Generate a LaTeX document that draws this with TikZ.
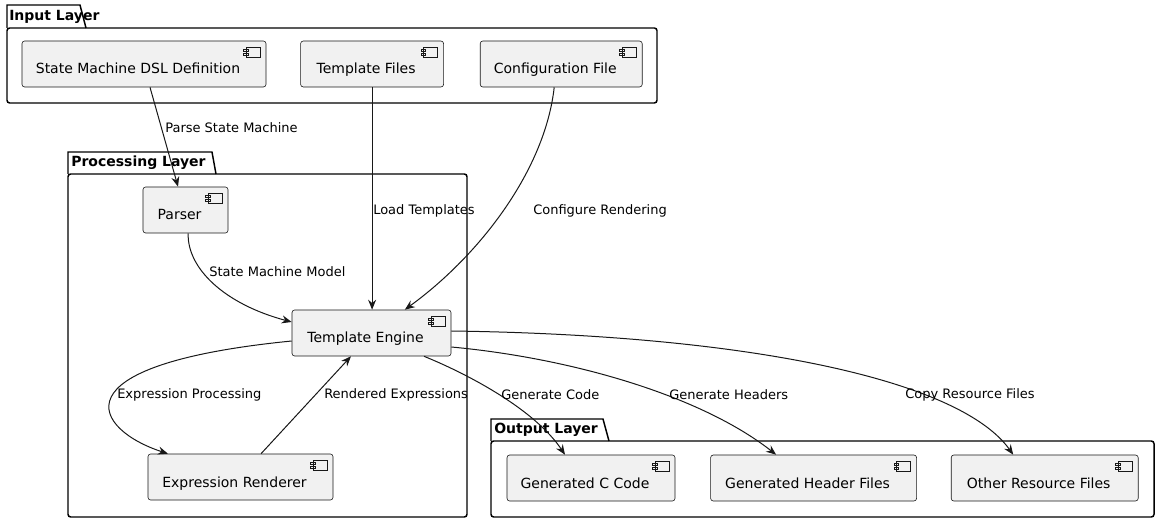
\documentclass[tikz,border=0pt]{standalone}
\usepackage{fontspec}
\setmainfont{DejaVu Sans}
\usetikzlibrary{arrows.meta, positioning}
\definecolor{compFill}{HTML}{F1F1F1}
\definecolor{lineDark}{HTML}{181818}

\begin{document}
\begin{tikzpicture}[
    x=0.75pt, y=-0.75pt,
    comp/.style={rectangle, draw=lineDark, fill=compFill, line width=0.45pt, rounded corners=2pt,
        minimum height=34.5pt, font=\fontsize{10.5}{12}\selectfont, text height=15pt, text depth=0pt,
        execute at end node={\hspace{9pt}},
        path picture={
            \draw[lineDark, line width=0.45pt, fill=compFill, sharp corners]
                ([xshift=-15pt,yshift=-4.5pt]path picture bounding box.north east) rectangle ++(10.5pt,-7.5pt)
                ([xshift=-17pt,yshift=-6.2pt]path picture bounding box.north east) rectangle ++(3.5pt,-1.5pt)
                ([xshift=-17pt,yshift=-9.2pt]path picture bounding box.north east) rectangle ++(3.5pt,-1.5pt);
        }},
    pkg/.style={draw=black, line width=1.1pt},
    pkgtitle/.style={anchor=west, inner sep=0pt, font=\bfseries\fontsize{10.5}{12}\selectfont},
    arrow/.style={-{Stealth[length=7.5pt, width=6pt, inset=2.5pt]}, draw=lineDark, line width=0.75pt},
    lbl/.style={anchor=west, inner sep=0pt, font=\fontsize{9.75}{11}\selectfont}
]
\useasboundingbox (0,0) rectangle (1159,523);

% Packages
\draw[pkg, rounded corners=2pt] (7,28) rectangle (657,103);
\draw[pkg] (7,28) -- (7,5) -- (80,5) -- (86,28);
\node[pkgtitle] (inTitle) at (9,16.5) {Input Layer};

\draw[pkg, rounded corners=2pt] (68,174) rectangle (467,517);
\draw[pkg] (68,174) -- (68,152) -- (212,152) -- (216,174);
\node[pkgtitle] (procTitle) at (71,163) {Processing Layer};

\draw[pkg, rounded corners=2pt] (491,441) rectangle (1154,517);
\draw[pkg] (491,441) -- (491,419) -- (603,419) -- (609,441);
\node[pkgtitle] (outTitle) at (494,430) {Output Layer};

% Input layer
\node[comp, minimum width=183pt] (dsl) at (144,64) {State Machine DSL Definition};
\node[comp, minimum width=107.25pt, right=25.5pt of dsl] (tpl) {Template Files};
\node[comp, minimum width=121.5pt, right=27pt of tpl] (cfg) {Configuration File};

% Processing layer
\node[comp, minimum width=63.75pt] (parser) at (185.5,210) {Parser};
\node[comp, minimum width=119.25pt] (engine) at (371.5,333) {Template Engine};
\node[comp, minimum width=138.75pt] (exprr) at (240.5,477) {Expression Renderer};

% Output layer
\node[comp, minimum width=126pt] (genc) at (591,478) {Generated C Code};
\node[comp, minimum width=154.5pt, right=26.25pt of genc] (genh) {Generated Header Files};
\node[comp, minimum width=140.25pt, right=25.5pt of genh] (other) {Other Resource Files};

% Arrows
\draw[arrow] ([xshift=4.5pt]dsl.south) -- ([xshift=-5.6pt]parser.north);
\draw[arrow] (tpl.south) -- (tpl.south |- engine.north);
\draw[arrow] ([xshift=-5.25pt]cfg.south) .. controls (545,170) and (480,255) .. ([xshift=25pt]engine.north);
\draw[arrow] ([xshift=2pt]parser.south) .. controls (187,268) and (224,304) .. ([yshift=8.25pt]engine.west);
\draw[arrow] ([yshift=-6pt]engine.west) .. controls (50,365) and (95,430) .. ([xshift=-54.4pt]exprr.north);
\draw[arrow] ([xshift=15.4pt]exprr.north) -- ([xshift=-15.4pt]engine.south);
\draw[arrow] ([xshift=39.4pt]engine.south) .. controls (470,375) and (535,410) .. ([xshift=-19.5pt]genc.north);
\draw[arrow] ([yshift=-10.5pt]engine.east) .. controls (570,358) and (700,395) .. ([xshift=-28.1pt]genh.north);
\draw[arrow] ([yshift=1.5pt]engine.east) .. controls (750,335) and (960,380) .. ([xshift=-23.6pt]other.north);

% Labels
\node[lbl] (lParse) at (165,128) {Parse State Machine};
\node[lbl] (lLoad) at (373,211) {Load Templates};
\node[lbl] (lConf) at (533,211) {Configure Rendering};
\node[lbl] (lModel) at (209,272) {State Machine Model};
\node[lbl] (lExpr) at (117,395) {Expression Processing};
\node[lbl] (lRend) at (324,395) {Rendered Expressions};
\node[lbl] (lCode) at (501,395) {Generate Code};
\node[lbl] (lHead) at (669,395) {Generate Headers};
\node[lbl] (lCopy) at (905,395) {Copy Resource Files};

\end{tikzpicture}
\end{document}
